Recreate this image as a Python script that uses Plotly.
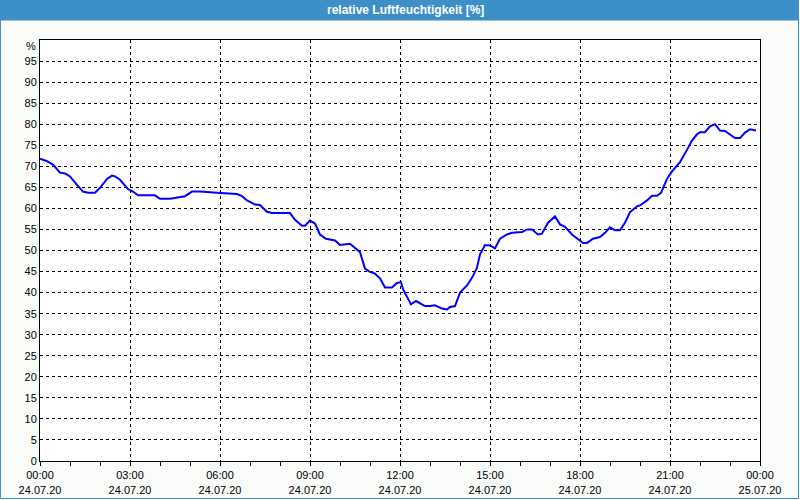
import plotly.graph_objects as go

# --- data ---
times = ["00:00","00:14","00:26","00:40","00:50","01:00","01:14","01:26","01:36","01:50",
         "02:00","02:14","02:24","02:30","02:40","02:56","03:06","03:16","03:50","04:00",
         "04:20","04:34","04:50","05:04","05:20","05:54","06:34","06:44","06:54","07:10",
         "07:20","07:34","07:44","08:20","08:30","08:44","08:50","09:00","09:10","09:20",
         "09:32","09:50","10:00","10:20","10:30","10:40","10:50","11:00","11:10","11:20",
         "11:30","11:44","11:54","12:02","12:06","12:14","12:22","12:32","12:40","12:50",
         "13:00","13:10","13:24","13:34","13:40","13:50","14:00","14:14","14:24","14:34",
         "14:40","14:50","15:00","15:10","15:20","15:34","15:44","16:04","16:14","16:24",
         "16:36","16:44","16:56","17:10","17:20","17:30","17:44","17:56","18:06","18:14",
         "18:26","18:40","18:50","19:00","19:10","19:20","19:30","19:40","19:54","20:00",
         "20:14","20:24","20:34","20:42","20:50","20:54","21:04","21:20","21:34","21:44",
         "21:54","22:00","22:10","22:20","22:30","22:40","22:50","23:00","23:10","23:20",
         "23:30","23:40","23:52"]
humidity = [71.8,71.2,70.4,68.5,68.3,67.6,65.6,64.0,63.7,63.7,
            64.9,67.0,67.8,67.6,66.8,64.6,64.0,63.1,63.1,62.3,
            62.3,62.6,62.9,64.0,64.0,63.7,63.4,62.9,61.9,60.9,
            60.8,59.2,58.9,58.9,57.3,55.9,55.9,57.1,56.4,53.8,
            52.8,52.4,51.3,51.6,50.6,49.6,45.7,44.9,44.5,43.4,
            41.2,41.2,42.3,42.5,40.8,38.8,37.2,38.0,37.4,36.8,
            36.8,37.0,36.2,36.0,36.6,36.8,40.0,41.7,43.5,45.9,
            49.1,51.3,51.2,50.5,52.8,53.8,54.2,54.4,55.0,55.0,
            53.8,54.0,56.6,58.1,56.2,55.6,53.8,52.6,51.8,51.8,
            52.8,53.2,54.2,55.5,54.8,54.8,56.6,59.1,60.5,60.7,
            61.9,63.0,63.0,63.7,66.0,67.0,68.8,71.0,73.9,76.1,
            77.6,78.1,78.1,79.5,80.0,78.5,78.4,77.5,76.7,76.7,
            78.0,78.8,78.5]

x_tick_vals = ["2020-07-24 00:00","2020-07-24 03:00","2020-07-24 06:00","2020-07-24 09:00",
               "2020-07-24 12:00","2020-07-24 15:00","2020-07-24 18:00","2020-07-24 21:00",
               "2020-07-25 00:00"]
x_tick_text = ["00:00<br>24.07.20","03:00<br>24.07.20","06:00<br>24.07.20","09:00<br>24.07.20",
               "12:00<br>24.07.20","15:00<br>24.07.20","18:00<br>24.07.20","21:00<br>24.07.20",
               "00:00<br>25.07.20"]
y_tick_vals = list(range(0, 100, 5))
y_tick_text = [str(v) for v in y_tick_vals]
unit_label = "%"

title_text = "relative Luftfeuchtigkeit [%]"

x = ["2020-07-24 " + t for t in times]

W, H = 800, 500
ml, mr, mt, mb = 40, 40, 40, 39
pw, ph = W - ml - mr, H - mt - mb

def px_x(p):  # pixel from left -> paper x
    return (p - ml) / pw

def px_y(p):  # pixel from top -> paper y
    return (H - mb - p) / ph

FONT = "Liberation Sans"
BLUE = "#3d8fc7"

fig = go.Figure()
fig.add_trace(go.Scatter(x=x, y=humidity, mode="lines",
                         line=dict(color="#0000ff", width=2), hoverinfo="skip"))

fig.update_layout(
    width=W, height=H,
    margin=dict(l=ml, r=mr, t=mt, b=mb, autoexpand=False),
    paper_bgcolor="#fafcfa",
    plot_bgcolor="#ffffff",
    showlegend=False,
    font=dict(family=FONT, size=11, color="#000000"),
    xaxis=dict(
        range=["2020-07-24 00:00", "2020-07-25 00:00"],
        tickmode="array", tickvals=x_tick_vals, ticktext=x_tick_text,
        showgrid=True, gridcolor="#000000", gridwidth=1, griddash="3px,3px",
        showline=True, linecolor="#000000", linewidth=1, mirror=True,
        ticks="outside", ticklen=4, tickcolor="#000000",
        minor=dict(tickmode="linear", tick0="2020-07-24 00:00", dtick=3600000,
                   ticks="outside", ticklen=4, tickcolor="#000000", showgrid=False),
        zeroline=False, fixedrange=True, automargin=False,
        tickfont=dict(family=FONT, size=11),
    ),
    yaxis=dict(
        range=[0, 100],
        tickmode="array", tickvals=y_tick_vals, ticktext=y_tick_text,
        showgrid=True, gridcolor="#000000", gridwidth=1, griddash="3px,3px",
        showline=True, linecolor="#000000", linewidth=1, mirror=True,
        ticks="", zeroline=False, fixedrange=True, automargin=False,
        tickfont=dict(family=FONT, size=11),
    ),
    shapes=[
        dict(type="rect", xref="paper", yref="paper",
             x0=px_x(0), x1=px_x(W - 1), y0=px_y(0), y1=px_y(20.5),
             fillcolor=BLUE, line=dict(width=0), layer="below"),
        dict(type="rect", xref="paper", yref="paper",
             x0=px_x(0.5), x1=px_x(W - 1.5), y0=px_y(0.5), y1=px_y(H - 1.5),
             fillcolor="rgba(0,0,0,0)", line=dict(color=BLUE, width=1)),
    ],
    annotations=[
        dict(text="<b>" + title_text + "</b>", xref="paper", yref="paper",
             x=px_x(405), y=px_y(10), xanchor="center", yanchor="middle",
             showarrow=False, font=dict(family=FONT, size=12, color="#ffffff")),
        dict(text=unit_label, xref="paper", yref="paper",
             x=px_x(37.5), y=px_y(46), xanchor="right", yanchor="middle",
             showarrow=False, font=dict(family=FONT, size=11, color="#000000")),
    ],
)

fig.write_html("out.html")
